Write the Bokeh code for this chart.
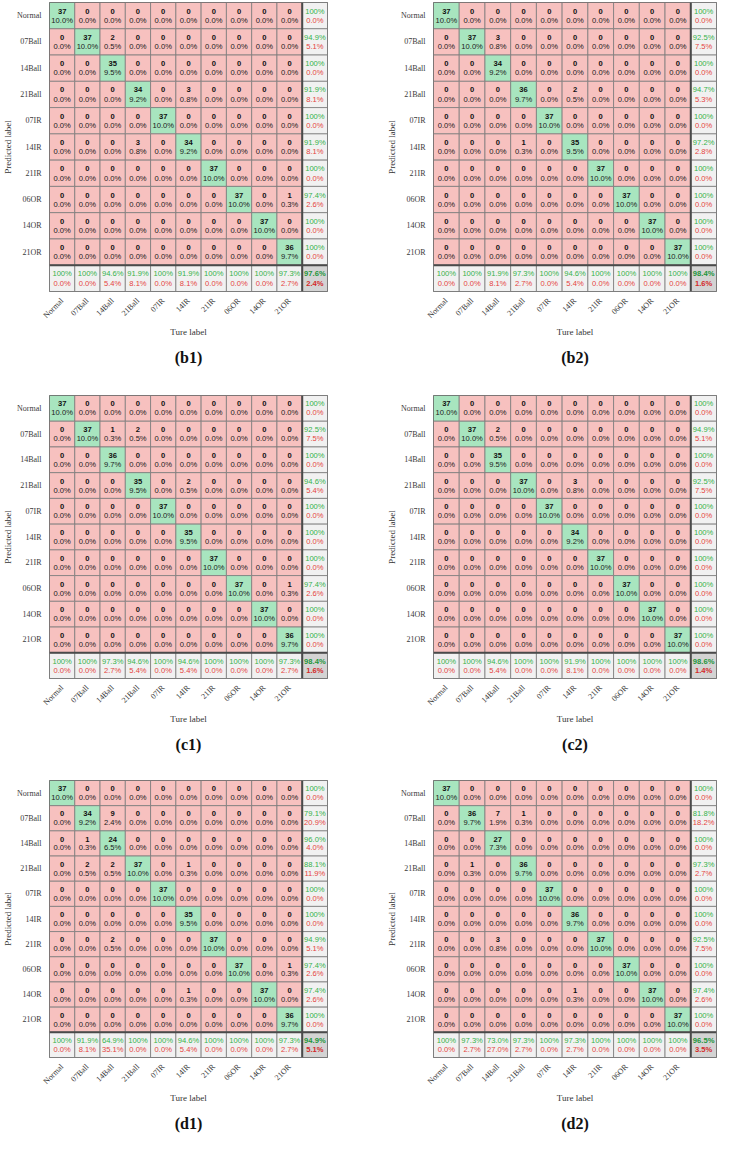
import numpy as np
from bokeh.plotting import figure
from bokeh.models import ColumnDataSource, Span, FactorRange
from bokeh.layouts import gridplot
from bokeh.transform import dodge
from bokeh.core.properties import value
from bokeh.embed import file_html
from bokeh.resources import INLINE

classes = ["Normal", "07Ball", "14Ball", "21Ball", "07IR", "14IR", "21IR", "06OR", "14OR", "21OR"]
SUM = " "

# rows = predicted label, columns = true label
b1_counts = [
    [37, 0, 0, 0, 0, 0, 0, 0, 0, 0],
    [0, 37, 2, 0, 0, 0, 0, 0, 0, 0],
    [0, 0, 35, 0, 0, 0, 0, 0, 0, 0],
    [0, 0, 0, 34, 0, 3, 0, 0, 0, 0],
    [0, 0, 0, 0, 37, 0, 0, 0, 0, 0],
    [0, 0, 0, 3, 0, 34, 0, 0, 0, 0],
    [0, 0, 0, 0, 0, 0, 37, 0, 0, 0],
    [0, 0, 0, 0, 0, 0, 0, 37, 0, 1],
    [0, 0, 0, 0, 0, 0, 0, 0, 37, 0],
    [0, 0, 0, 0, 0, 0, 0, 0, 0, 36],
]
b1_row_acc = [100, 94.9, 100, 91.9, 100, 91.9, 100, 97.4, 100, 100]
b1_col_acc = [100, 100, 94.6, 91.9, 100, 91.9, 100, 100, 100, 97.3]
b1_total_acc = 97.6

b2_counts = [
    [37, 0, 0, 0, 0, 0, 0, 0, 0, 0],
    [0, 37, 3, 0, 0, 0, 0, 0, 0, 0],
    [0, 0, 34, 0, 0, 0, 0, 0, 0, 0],
    [0, 0, 0, 36, 0, 2, 0, 0, 0, 0],
    [0, 0, 0, 0, 37, 0, 0, 0, 0, 0],
    [0, 0, 0, 1, 0, 35, 0, 0, 0, 0],
    [0, 0, 0, 0, 0, 0, 37, 0, 0, 0],
    [0, 0, 0, 0, 0, 0, 0, 37, 0, 0],
    [0, 0, 0, 0, 0, 0, 0, 0, 37, 0],
    [0, 0, 0, 0, 0, 0, 0, 0, 0, 37],
]
b2_row_acc = [100, 92.5, 100, 94.7, 100, 97.2, 100, 100, 100, 100]
b2_col_acc = [100, 100, 91.9, 97.3, 100, 94.6, 100, 100, 100, 100]
b2_total_acc = 98.4

c1_counts = [
    [37, 0, 0, 0, 0, 0, 0, 0, 0, 0],
    [0, 37, 1, 2, 0, 0, 0, 0, 0, 0],
    [0, 0, 36, 0, 0, 0, 0, 0, 0, 0],
    [0, 0, 0, 35, 0, 2, 0, 0, 0, 0],
    [0, 0, 0, 0, 37, 0, 0, 0, 0, 0],
    [0, 0, 0, 0, 0, 35, 0, 0, 0, 0],
    [0, 0, 0, 0, 0, 0, 37, 0, 0, 0],
    [0, 0, 0, 0, 0, 0, 0, 37, 0, 1],
    [0, 0, 0, 0, 0, 0, 0, 0, 37, 0],
    [0, 0, 0, 0, 0, 0, 0, 0, 0, 36],
]
c1_row_acc = [100, 92.5, 100, 94.6, 100, 100, 100, 97.4, 100, 100]
c1_col_acc = [100, 100, 97.3, 94.6, 100, 94.6, 100, 100, 100, 97.3]
c1_total_acc = 98.4

c2_counts = [
    [37, 0, 0, 0, 0, 0, 0, 0, 0, 0],
    [0, 37, 2, 0, 0, 0, 0, 0, 0, 0],
    [0, 0, 35, 0, 0, 0, 0, 0, 0, 0],
    [0, 0, 0, 37, 0, 3, 0, 0, 0, 0],
    [0, 0, 0, 0, 37, 0, 0, 0, 0, 0],
    [0, 0, 0, 0, 0, 34, 0, 0, 0, 0],
    [0, 0, 0, 0, 0, 0, 37, 0, 0, 0],
    [0, 0, 0, 0, 0, 0, 0, 37, 0, 0],
    [0, 0, 0, 0, 0, 0, 0, 0, 37, 0],
    [0, 0, 0, 0, 0, 0, 0, 0, 0, 37],
]
c2_row_acc = [100, 94.9, 100, 92.5, 100, 100, 100, 100, 100, 100]
c2_col_acc = [100, 100, 94.6, 100, 100, 91.9, 100, 100, 100, 100]
c2_total_acc = 98.6

d1_counts = [
    [37, 0, 0, 0, 0, 0, 0, 0, 0, 0],
    [0, 34, 9, 0, 0, 0, 0, 0, 0, 0],
    [0, 1, 24, 0, 0, 0, 0, 0, 0, 0],
    [0, 2, 2, 37, 0, 1, 0, 0, 0, 0],
    [0, 0, 0, 0, 37, 0, 0, 0, 0, 0],
    [0, 0, 0, 0, 0, 35, 0, 0, 0, 0],
    [0, 0, 2, 0, 0, 0, 37, 0, 0, 0],
    [0, 0, 0, 0, 0, 0, 0, 37, 0, 1],
    [0, 0, 0, 0, 0, 1, 0, 0, 37, 0],
    [0, 0, 0, 0, 0, 0, 0, 0, 0, 36],
]
d1_row_acc = [100, 79.1, 96.0, 88.1, 100, 100, 94.9, 97.4, 97.4, 100]
d1_col_acc = [100, 91.9, 64.9, 100, 100, 94.6, 100, 100, 100, 97.3]
d1_total_acc = 94.9

d2_counts = [
    [37, 0, 0, 0, 0, 0, 0, 0, 0, 0],
    [0, 36, 7, 1, 0, 0, 0, 0, 0, 0],
    [0, 0, 27, 0, 0, 0, 0, 0, 0, 0],
    [0, 1, 0, 36, 0, 0, 0, 0, 0, 0],
    [0, 0, 0, 0, 37, 0, 0, 0, 0, 0],
    [0, 0, 0, 0, 0, 36, 0, 0, 0, 0],
    [0, 0, 3, 0, 0, 0, 37, 0, 0, 0],
    [0, 0, 0, 0, 0, 0, 0, 37, 0, 0],
    [0, 0, 0, 0, 0, 1, 0, 0, 37, 0],
    [0, 0, 0, 0, 0, 0, 0, 0, 0, 37],
]
d2_row_acc = [100, 81.8, 100, 97.3, 100, 100, 92.5, 100, 97.4, 100]
d2_col_acc = [100, 97.3, 73.0, 97.3, 100, 97.3, 100, 100, 100, 100]
d2_total_acc = 96.5

GREEN_CELL = "#A8E5BF"
PINK_CELL = "#F7C1BF"
SUM_CELL = "#F1F1F1"
CORNER_CELL = "#D3D3D3"
GREEN_TXT = "#35B24A"
RED_TXT = "#E5443E"
GREEN_BOLD = "#23953A"
RED_BOLD = "#D42A2A"


def fmt(v):
    return "100%" if abs(v - 100) < 1e-9 else "%.1f%%" % v


def panel(name, counts, row_acc, col_acc, total_acc, left, top, fw, fh, W=360, H=379):
    xf = classes + [SUM]
    yf = list(reversed(classes + [SUM]))
    p = figure(x_range=FactorRange(*xf), y_range=FactorRange(*yf),
               width=W, height=H, output_backend="svg", toolbar_location=None, tools="",
               title=name, title_location="below",
               min_border_left=left, min_border_top=top,
               min_border_right=W - left - fw, min_border_bottom=H - top - fh)
    total = float(np.sum(counts))
    xs, ys, cols, t1, t2 = [], [], [], [], []
    for i, pr in enumerate(classes):
        for j, tr in enumerate(classes):
            c = counts[i][j]
            xs.append(tr); ys.append(pr)
            cols.append(GREEN_CELL if i == j else PINK_CELL)
            t1.append(str(c)); t2.append("%.1f%%" % (c / total * 100))
    main = ColumnDataSource(dict(x=xs, y=ys, color=cols, t1=t1, t2=t2))

    sx, sy, sc, s1, s2 = [], [], [], [], []
    for i, pr in enumerate(classes):
        sx.append(SUM); sy.append(pr); sc.append(SUM_CELL)
        s1.append(fmt(row_acc[i])); s2.append(fmt(100 - row_acc[i]))
    for j, tr in enumerate(classes):
        sx.append(tr); sy.append(SUM); sc.append(SUM_CELL)
        s1.append(fmt(col_acc[j])); s2.append(fmt(100 - col_acc[j]))
    summ = ColumnDataSource(dict(x=sx, y=sy, color=sc, t1=s1, t2=s2))
    corner = ColumnDataSource(dict(x=[SUM], y=[SUM], color=[CORNER_CELL],
                                   t1=[fmt(total_acc)], t2=[fmt(100 - total_acc)]))

    for src in (main, summ, corner):
        p.rect(x="x", y="y", width=1, height=1, source=src, fill_color="color",
               line_color="#7b7b7b", line_width=0.8)

    up = dodge("y", 0.17, range=p.y_range)
    dn = dodge("y", -0.18, range=p.y_range)
    font = value("Liberation Sans")
    fs = "7.6px"
    p.text(x="x", y=up, text="t1", source=main, text_font=font, text_font_size=fs,
           text_font_style="bold", text_color="#111111", text_align="center", text_baseline="middle")
    p.text(x="x", y=dn, text="t2", source=main, text_font=font, text_font_size=fs,
           text_color="#1a1a1a", text_align="center", text_baseline="middle")
    p.text(x="x", y=up, text="t1", source=summ, text_font=font, text_font_size=fs,
           text_color=GREEN_TXT, text_align="center", text_baseline="middle")
    p.text(x="x", y=dn, text="t2", source=summ, text_font=font, text_font_size=fs,
           text_color=RED_TXT, text_align="center", text_baseline="middle")
    p.text(x="x", y=up, text="t1", source=corner, text_font=font, text_font_size=fs,
           text_font_style="bold", text_color=GREEN_BOLD, text_align="center", text_baseline="middle")
    p.text(x="x", y=dn, text="t2", source=corner, text_font=font, text_font_size=fs,
           text_font_style="bold", text_color=RED_BOLD, text_align="center", text_baseline="middle")

    p.add_layout(Span(location=len(classes), dimension="height", line_color="#4a4a4a", line_width=2))
    p.add_layout(Span(location=1, dimension="width", line_color="#4a4a4a", line_width=2))

    p.xgrid.visible = False
    p.ygrid.visible = False
    p.outline_line_color = "#5a5a5a"
    p.outline_line_width = 1
    for ax in (p.xaxis, p.yaxis):
        ax.major_tick_line_color = None
        ax.minor_tick_line_color = None
        ax.axis_line_color = None
        ax.major_label_text_font = "Liberation Serif"
        ax.major_label_text_font_size = "8px"
        ax.major_label_text_color = "#3a3a3a"
        ax.axis_label_text_font = "Liberation Serif"
        ax.axis_label_text_font_size = "9px"
        ax.axis_label_text_font_style = "normal"
        ax.axis_label_text_color = "#333333"
        ax.major_label_standoff = 2
        ax.axis_label_standoff = 1
    p.xaxis.major_label_orientation = np.pi / 4
    p.xaxis.axis_label = "Ture label"
    p.yaxis.axis_label = "Predicted label"

    p.title.align = "center"
    p.title.text_font = "Liberation Serif"
    p.title.text_font_size = "16px"
    p.title.text_font_style = "bold"
    p.title.text_color = "#111111"
    p.title.standoff = 12
    return p


pb1 = panel("(b1)", b1_counts, b1_row_acc, b1_col_acc, b1_total_acc, 42, 2, 291, 289)
pb2 = panel("(b2)", b2_counts, b2_row_acc, b2_col_acc, b2_total_acc, 70, 2, 289, 289)
pc1 = panel("(c1)", c1_counts, c1_row_acc, c1_col_acc, c1_total_acc, 44, 16, 283, 284)
pc2 = panel("(c2)", c2_counts, c2_row_acc, c2_col_acc, c2_total_acc, 73, 16, 283, 284)
pd1 = panel("(d1)", d1_counts, d1_row_acc, d1_col_acc, d1_total_acc, 42, 22, 290, 290)
pd2 = panel("(d2)", d2_counts, d2_row_acc, d2_col_acc, d2_total_acc, 70, 22, 289, 290)

layout = gridplot([[pb1, pb2], [pc1, pc2], [pd1, pd2]], toolbar_location=None)

open("out.html", "w").write(file_html(layout, INLINE))
